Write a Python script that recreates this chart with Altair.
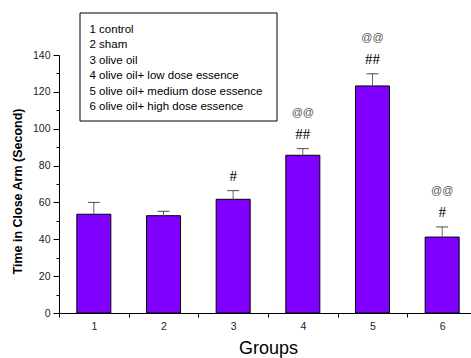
import altair as alt
import pandas as pd

# Group numbers, legend descriptions, means and standard errors
groups = [1, 2, 3, 4, 5, 6]
descriptions = [
    "1 control",
    "2 sham",
    "3 olive oil",
    "4 olive oil+ low dose essence",
    "5 olive oil+ medium dose essence",
    "6 olive oil+ high dose essence",
]
means = [53.6, 52.8, 61.7, 85.6, 123.2, 41.2]
errors = [6.4, 2.4, 4.7, 3.6, 6.6, 5.5]
hash_marks = ["", "", "#", "##", "##", "#"]
at_marks = ["", "", "", "@@", "@@", "@@"]

df = pd.DataFrame({
    "group": groups,
    "label": descriptions,
    "mean": means,
    "err": errors,
    "hash": hash_marks,
    "at": at_marks,
})
df["upper"] = df["mean"] + df["err"]

FONT = "Liberation Sans"
PURPLE = "#7f00ff"

x_scale = alt.Scale(range=[0, 418], paddingInner=0, paddingOuter=0)
y_scale = alt.Scale(domain=[0, 140], nice=False)

x_axis = alt.Axis(
    title="Groups",
    titleFont=FONT,
    titleFontSize=18,
    titleFontWeight="normal",
    titleColor="black",
    titlePadding=8,
    labelAngle=0,
    labelFont=FONT,
    labelFontSize=10.5,
    labelColor="#222",
    labelPadding=4,
    tickBand="extent",
    tickSize=4,
    tickColor="black",
    domainColor="black",
)

y_axis = alt.Axis(
    title="Time in Close Arm (Second)",
    titleFont=FONT,
    titleFontSize=12.5,
    titleFontWeight="bold",
    titleColor="black",
    titlePadding=8,
    titleY=136,
    values=list(range(0, 141, 10)),
    labelExpr="datum.value % 20 == 0 ? datum.label : ''",
    labelOverlap=False,
    labelFont=FONT,
    labelFontSize=10.5,
    labelColor="#222",
    labelPadding=3,
    tickSize={"condition": {"test": "datum.value % 20 == 0", "value": 6}, "value": 3},
    tickColor="black",
    domainColor="black",
    grid=False,
)

gx = alt.X("group:O", scale=x_scale, axis=x_axis)


def gy(field):
    return alt.Y(field, type="quantitative", scale=y_scale, axis=y_axis)


base = alt.Chart(df)

bars = base.mark_bar(size=34, stroke="black", strokeWidth=1).encode(
    x=gx,
    y=gy("mean"),
    color=alt.Color(
        "label:N",
        scale=alt.Scale(range=[PURPLE] * 6),
        legend=alt.Legend(
            title=None,
            orient="none",
            legendX=19,
            legendY=-31,
            padding=0,
            symbolSize=0,
            symbolOpacity=0,
            labelOffset=0,
            labelLimit=400,
            labelFont=FONT,
            labelFontSize=11.5,
            labelColor="black",
            rowPadding=2.5,
        ),
    ),
)

err_line = base.mark_rule(color="#666", strokeWidth=1).encode(
    x=gx, y=gy("mean"), y2="upper:Q"
)
err_cap = base.mark_tick(size=12, thickness=1, color="black").encode(
    x=gx, y=gy("upper")
)

hash_text = base.mark_text(
    font="Liberation Serif", fontSize=15, color="black", baseline="middle", dy=-15
).encode(x=gx, y=gy("upper"), text="hash:N")

at_text = base.mark_text(
    font=FONT, fontSize=11, color="#555", baseline="middle", dy=-36
).encode(x=gx, y=gy("upper"), text="at:N")

legend_box = alt.Chart(pd.DataFrame({"k": [0]})).mark_rect(
    fill="white", stroke="black", strokeWidth=1
).encode(
    x=alt.value(21), x2=alt.value(218), y=alt.value(-42), y2=alt.value(66)
)

chart = alt.layer(
    legend_box, bars, err_line, err_cap, hash_text, at_text
).properties(
    width=412,
    height=258,
    autosize="none",
    background="white",
    padding={"left": 59, "top": 55, "right": 0, "bottom": 45},
).configure_view(stroke=None)

chart.save("out.html", embed_options={"renderer": "svg", "actions": False})
